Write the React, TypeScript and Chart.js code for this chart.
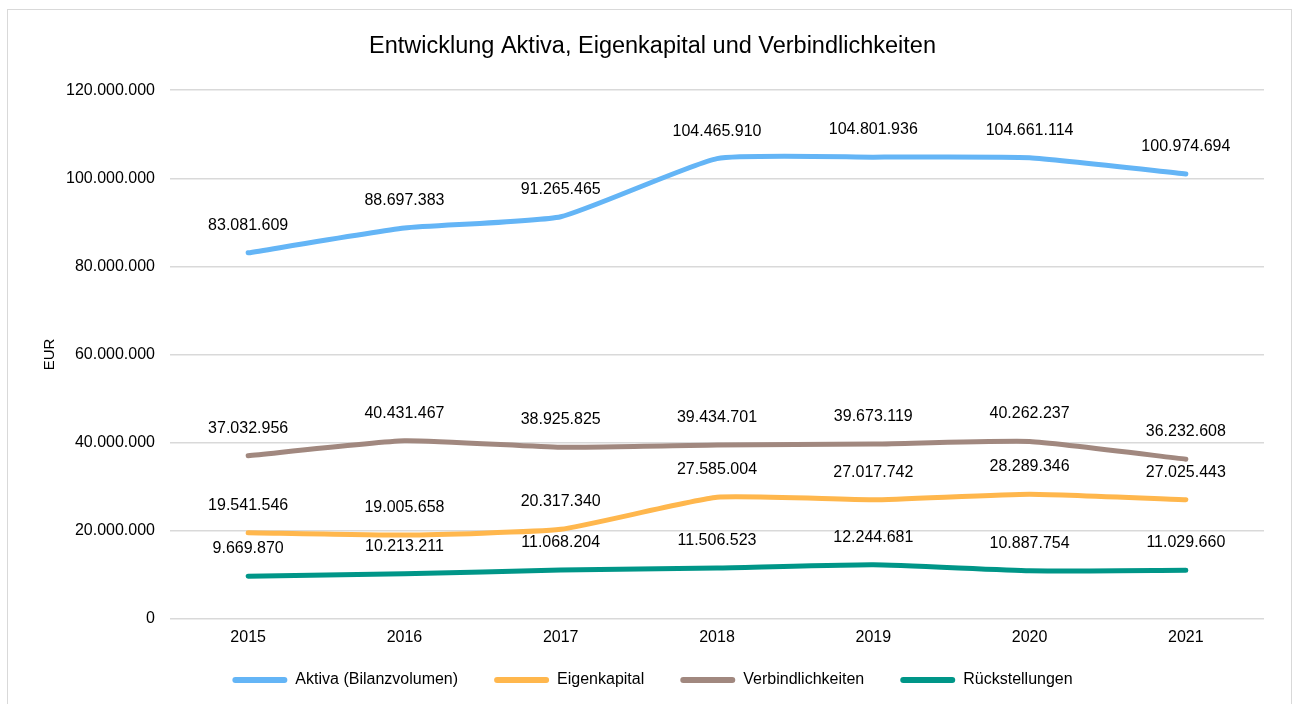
import React, { useEffect, useRef } from "react";
import { Chart, registerables } from "chart.js";

Chart.register(...registerables);

const years = ["2015", "2016", "2017", "2018", "2019", "2020", "2021"];
const aktiva = [83081609, 88697383, 91265465, 104465910, 104801936, 104661114, 100974694];
const eigenkapital = [19541546, 19005658, 20317340, 27585004, 27017742, 28289346, 27025443];
const verbindlichkeiten = [37032956, 40431467, 38925825, 39434701, 39673119, 40262237, 36232608];
const rueckstellungen = [9669870, 10213211, 11068204, 11506523, 12244681, 10887754, 11029660];

const seriesNames = ["Aktiva (Bilanzvolumen)", "Eigenkapital", "Verbindlichkeiten", "Rückstellungen"];
const seriesColors = ["#64B5F6", "#FFB74D", "#A1887F", "#009688"];

const FONT = "'Liberation Sans', Arial, sans-serif";

function fmt(v: number): string {
  const s = Math.round(v).toString();
  return s.replace(/\B(?=(\d{3})+(?!\d))/g, ".");
}

const dataLabelPlugin = {
  id: "dataLabels",
  afterDatasetsDraw(chart: any) {
    const ctx = chart.ctx;
    ctx.save();
    ctx.font = `16px ${FONT}`;
    ctx.fillStyle = "#000";
    ctx.textAlign = "center";
    ctx.textBaseline = "middle";
    chart.data.datasets.forEach((ds: any, i: number) => {
      const meta = chart.getDatasetMeta(i);
      meta.data.forEach((pt: any, j: number) => {
        ctx.fillText(fmt(ds.data[j]), pt.x, pt.y - 27.5);
      });
    });
    ctx.restore();
  },
};

export default function App() {
  const ref = useRef<HTMLCanvasElement | null>(null);

  useEffect(() => {
    document.body.style.overflow = "hidden";
    const canvas = ref.current;
    if (!canvas) return;
    const allData = [aktiva, eigenkapital, verbindlichkeiten, rueckstellungen];
    const chart = new Chart(canvas, {
      type: "line",
      data: {
        labels: years,
        datasets: allData.map((d, i) => ({
          label: seriesNames[i],
          data: d,
          borderColor: seriesColors[i],
          backgroundColor: seriesColors[i],
          borderWidth: 5,
          borderCapStyle: "round" as const,
          borderJoinStyle: "round" as const,
          pointRadius: 0,
          tension: 0.15,
          fill: false,
        })),
      },
      options: {
        responsive: false,
        animation: false,
        layout: { padding: { left: 33, right: 27, top: 0, bottom: 10 } },
        plugins: {
          title: {
            display: true,
            text: "Entwicklung Aktiva, Eigenkapital und Verbindlichkeiten",
            color: "#000",
            font: { family: FONT, size: 23.5, weight: "normal" },
            padding: { top: 22, bottom: 30 },
          },
          legend: {
            position: "bottom",
            labels: {
              color: "#000",
              font: { family: FONT, size: 16 },
              boxWidth: 55,
              boxHeight: 6,
              padding: 36,
              useBorderRadius: true,
              borderRadius: 3,
              generateLabels(chart: any) {
                const items = Chart.defaults.plugins.legend.labels.generateLabels(chart);
                return items.map((it: any) => ({
                  ...it,
                  fillStyle: it.strokeStyle,
                  lineWidth: 0,
                  borderRadius: 3,
                }));
              },
            },
          },
          tooltip: { enabled: false },
        },
        scales: {
          x: {
            offset: true,
            grid: { display: false, drawTicks: false },
            border: { display: false },
            ticks: { color: "#000", font: { family: FONT, size: 16 }, padding: 9 },
            afterFit(scale: any) {
              scale.height = scale.height - 20;
              scale._computeLabelArea = () => undefined;
            },
          },
          y: {
            min: 0,
            max: 120000000,
            afterFit(scale: any) {
              scale.width = 129;
            },
            ticks: {
              stepSize: 20000000,
              color: "#000",
              font: { family: FONT, size: 16 },
              padding: 15,
              callback: (v: any) => fmt(Number(v)),
            },
            grid: { color: "#d9d9d9", lineWidth: 1.5, drawTicks: false },
            border: { display: false },
            title: {
              display: true,
              text: "EUR",
              color: "#000",
              font: { family: FONT, size: 15 },
              padding: { top: 0, bottom: 0 },
            },
          },
        },
      },
      plugins: [dataLabelPlugin],
    });
    return () => chart.destroy();
  }, []);

  return (
    <div
      style={{
        position: "fixed",
        left: 7,
        top: 9,
        width: 1285,
        height: 700,
        border: "1px solid #d9d9d9",
        boxSizing: "border-box",
        background: "#fff",
      }}
    >
      <canvas ref={ref} width={1283} height={698} style={{ display: "block" }} />
    </div>
  );
}
